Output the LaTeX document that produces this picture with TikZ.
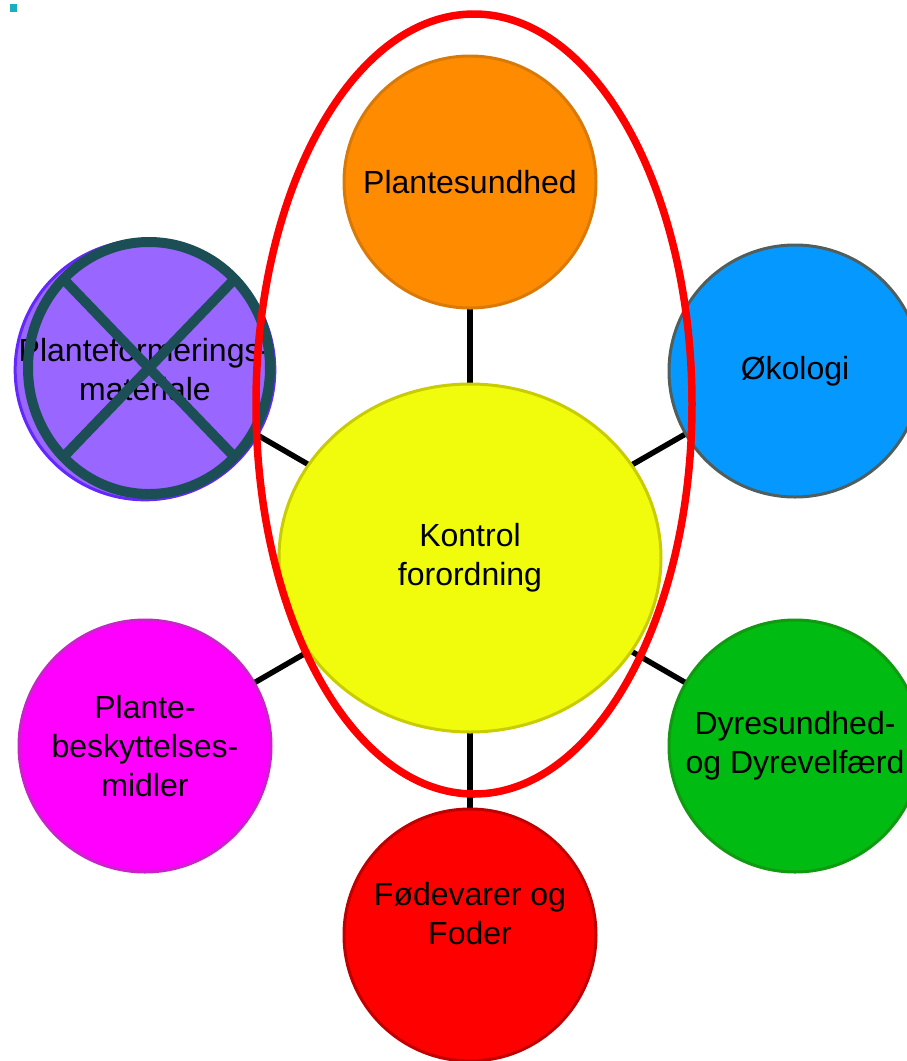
\documentclass[tikz,border=0pt]{standalone}
\usepackage{fontspec}
\setmainfont{Liberation Sans}
\usetikzlibrary{shapes.geometric,backgrounds}
\definecolor{orfill}{HTML}{FF8C00}
\definecolor{ordraw}{HTML}{D97A08}
\definecolor{yefill}{HTML}{F0FC0C}
\definecolor{yedraw}{HTML}{C8CC00}
\definecolor{blfill}{HTML}{0599FF}
\definecolor{bldraw}{HTML}{505E5E}
\definecolor{grfill}{HTML}{00BB11}
\definecolor{grdraw}{HTML}{119A11}
\definecolor{rdfill}{HTML}{FF0000}
\definecolor{rddraw}{HTML}{C00000}
\definecolor{mgfill}{HTML}{FF00FF}
\definecolor{mgdraw}{HTML}{CC22CC}
\definecolor{pufill}{HTML}{9966FF}
\definecolor{pudraw}{HTML}{6428FF}
\definecolor{xcol}{HTML}{1B4F55}
\definecolor{sqcol}{HTML}{1AAFBF}
\begin{document}
\begin{tikzpicture}[x=1pt,y=-1pt,
  bub/.style={circle, line width=3pt, minimum size=252pt, inner sep=0pt, align=center,
    font=\fontsize{32}{39}\selectfont, text=black},
  txt/.style={align=center, inner sep=0pt, font=\fontsize{32}{39}\selectfont, text=black},
  conn/.style={line width=5.5pt, black}]
\useasboundingbox (0,0) rectangle (907,1061);
\clip (0,0) rectangle (907,1061);
\fill[sqcol] (10,4) rectangle (17,12);

\node[bub, fill=orfill, draw=ordraw] (plant) at (470,182) {Plantesundhed};
\node[bub, fill=blfill, draw=bldraw] (oko) at (795,371) {Økologi};
\node[bub, fill=grfill, draw=grdraw] (dyr) at (795,746) {Dyresundhed-\\og Dyrevelfærd};
\node[bub, fill=rdfill, draw=rddraw] (food) at (470,935) {};
\node[txt] (foodtxt) at (470,914) {Fødevarer og\\Foder};
\node[bub, fill=mgfill, draw=mgdraw] (pbm) at (145,746) {Plante-\\beskyttelses-\\midler};
\node[bub, fill=pufill, draw=pudraw] (pfm) at (145,370) {Planteformerings-\\materiale};
\node[ellipse, line width=3pt, minimum width=382pt, minimum height=348pt, inner sep=0pt,
  fill=yefill, draw=yedraw, align=center, font=\fontsize{32}{39}\selectfont] (kon) at (470,558) {Kontrol\\forordning};

\begin{scope}[on background layer]
\draw[conn] (kon.center) -- (plant.center);
\draw[conn] (kon.center) -- (oko.center);
\draw[conn] (kon.center) -- (dyr.center);
\draw[conn] (kon.center) -- (food.center);
\draw[conn] (kon.center) -- (pbm.center);
\draw[conn] (kon.center) -- (pfm.center);
\end{scope}

% crossed-out mark
\draw[xcol, line width=10pt] (149,368) ellipse [x radius=121pt, y radius=126pt];
\draw[xcol, line width=10pt] (63.4,279) -- (234.6,457);
\draw[xcol, line width=10pt] (234.6,279) -- (63.4,457);

% red highlight ellipse
\draw[red, line width=7.5pt] (474,404) ellipse [x radius=218pt, y radius=390pt];
\end{tikzpicture}
\end{document}
